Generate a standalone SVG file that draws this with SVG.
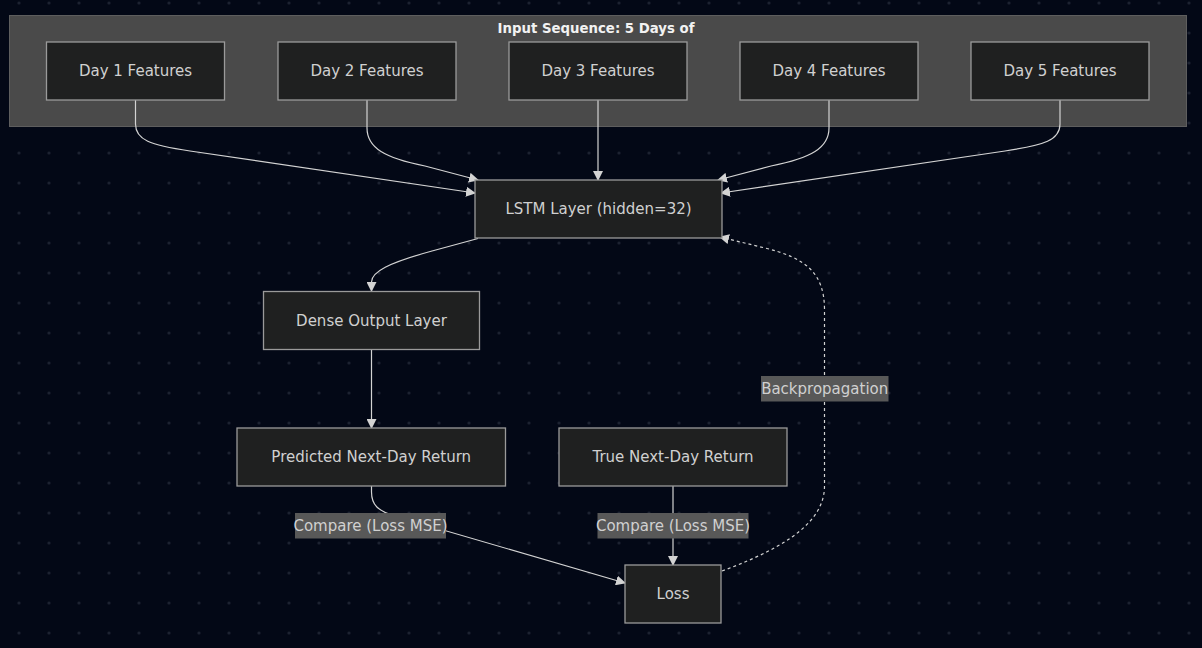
<svg xmlns="http://www.w3.org/2000/svg" width="1202" height="648" viewBox="0 0 1202 648">
<style>
.node rect{fill:#1f2020;stroke:#9a9a9a;stroke-width:1.3}
.node text,.lbl text{font-family:"DejaVu Sans",sans-serif;font-size:15px;fill:#d0d0d0;text-anchor:middle;dominant-baseline:central}
.lbl rect{fill:#585858}
.edge{fill:none;stroke:#d3d3d3;stroke-width:1.2}
.dotted{stroke-dasharray:3 3}
.title{font-family:"DejaVu Sans",sans-serif;font-size:13.3px;font-weight:bold;fill:#f2f2f2;text-anchor:middle;dominant-baseline:central}
</style>
<defs>
<pattern id="dots" x="0" y="0" width="30" height="30" patternUnits="userSpaceOnUse">
<circle cx="19" cy="3" r="1.6" fill="#1c2231"/>
</pattern>
<marker id="arr" viewBox="0 0 10 10" refX="9" refY="5" markerWidth="10" markerHeight="10" markerUnits="userSpaceOnUse" orient="auto">
<path d="M0,0 L10,5 L0,10 z" fill="#d3d3d3"/>
</marker>
</defs>
<rect width="1202" height="648" fill="#030816"/>
<rect width="1202" height="648" fill="url(#dots)"/>
<g id="cluster-input">
<rect x="9.5" y="15.5" width="1177" height="111" fill="#4a4a4a" stroke="#5e5e5e" stroke-width="1"/>
<text class="title" x="596" y="28">Input Sequence: 5 Days of</text>
</g>
<g id="connectors">
<path class="edge" marker-end="url(#arr)" d="M135.5,100 V124 C135.5,140 150,145 190,151 L475,193"/>
<path class="edge" marker-end="url(#arr)" d="M367,100 V128 C367,148 385,158 425,166 L478,180"/>
<path class="edge" marker-end="url(#arr)" d="M598,100 V180"/>
<path class="edge" marker-end="url(#arr)" d="M829,100 V128 C829,148 811,158 771,166 L718,180"/>
<path class="edge" marker-end="url(#arr)" d="M1060,100 V124 C1060,140 1045,145 1005,151 L721,193"/>
<path class="edge" marker-end="url(#arr)" d="M478,238.5 L432,251 C388,263 371.5,272 371.5,282 V291"/>
<path class="edge" marker-end="url(#arr)" d="M371.5,349 V428"/>
<path class="edge" marker-end="url(#arr)" d="M371.5,486 V492 C371.5,505 378,511 395,516 L625,583"/>
<path class="edge" marker-end="url(#arr)" d="M673,486 V565"/>
<path class="edge dotted" marker-end="url(#arr)" d="M722,571 C790,546 824.5,520 824.5,486 V310 C824.5,272 805,258 765,248 L720,237"/>
</g>
<g id="edge-labels">
<g class="lbl" id="lbl-compare-1"><rect x="295" y="513" width="151" height="25.5"/><text x="370.5" y="525.5">Compare (Loss MSE)</text></g>
<g class="lbl" id="lbl-compare-2"><rect x="597.5" y="513" width="151" height="25.5"/><text x="673" y="525.5">Compare (Loss MSE)</text></g>
<g class="lbl" id="lbl-backprop"><rect x="761" y="376" width="127.5" height="25.5"/><text x="824.7" y="388.5">Backpropagation</text></g>
</g>
<g class="node" id="day1"><rect x="46.5" y="42" width="178" height="58"/><text x="135.5" y="71">Day 1 Features</text></g>
<g class="node" id="day2"><rect x="278" y="42" width="178" height="58"/><text x="367" y="71">Day 2 Features</text></g>
<g class="node" id="day3"><rect x="509" y="42" width="178" height="58"/><text x="598" y="71">Day 3 Features</text></g>
<g class="node" id="day4"><rect x="740" y="42" width="178" height="58"/><text x="829" y="71">Day 4 Features</text></g>
<g class="node" id="day5"><rect x="971" y="42" width="178" height="58"/><text x="1060" y="71">Day 5 Features</text></g>
<g class="node" id="lstm"><rect x="475" y="180" width="247" height="58"/><text x="598.5" y="209">LSTM Layer (hidden=32)</text></g>
<g class="node" id="dense"><rect x="263.5" y="291.5" width="216" height="58"/><text x="371.5" y="320.5">Dense Output Layer</text></g>
<g class="node" id="predicted"><rect x="237" y="428" width="268.5" height="58"/><text x="371.2" y="457">Predicted Next-Day Return</text></g>
<g class="node" id="true"><rect x="559" y="428" width="228" height="58"/><text x="673" y="457">True Next-Day Return</text></g>
<g class="node" id="loss"><rect x="625" y="565" width="96" height="58"/><text x="673" y="594">Loss</text></g>
</svg>
